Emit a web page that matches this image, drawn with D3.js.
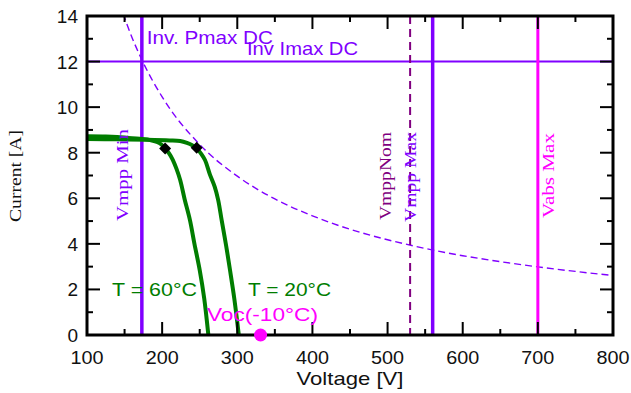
<!DOCTYPE html>
<html><head><meta charset="utf-8">
<script src="https://cdn.jsdelivr.net/npm/d3@7"></script>
<style>
html,body{margin:0;padding:0;background:#fff;}
svg{display:block;}
.sans{font-family:"Liberation Sans",Arial,sans-serif;}
.serif{font-family:"Liberation Serif","Times New Roman",serif;}
</style></head>
<body>
<svg id="chart" width="631" height="393"></svg>
<script>
// ---------- data ----------
const xTicks = [100, 200, 300, 400, 500, 600, 700, 800];
const xMinorTicks = [150, 250, 350, 450, 550, 650, 750];
const yTicks = [0, 2, 4, 6, 8, 10, 12, 14];
const yMinorTicks = [1, 3, 5, 7, 9, 11, 13];

// I-V curve at T = 60°C
const iv60V = [100, 125, 140, 155, 170, 185, 193, 199, 204, 209, 214, 219, 224, 230, 237, 243, 250, 256, 261.5];
const iv60I = [8.72, 8.71, 8.69, 8.65, 8.61, 8.55, 8.47, 8.36, 8.19, 7.98, 7.7, 7.3, 6.8, 5.95, 5.04, 4.0, 2.85, 1.6, 0];
// I-V curve at T = 20°C
const iv20V = [100, 140, 180, 210, 224, 233, 240, 246, 252, 257, 263.5, 270, 274.6, 279.2, 285, 290.3, 296, 302];
const iv20I = [8.6, 8.59, 8.57, 8.54, 8.51, 8.43, 8.33, 8.19, 7.95, 7.68, 7.05, 6.5, 5.92, 5.04, 3.95, 2.85, 1.6, 0];
// MPP points [V, I]
const mppV = [204, 246];
const mppI = [8.19, 8.22];

// Inverter max DC power curve (constant power)
const pmaxV = [148, 160, 173, 200, 250, 300, 350, 400, 450, 500, 550, 600, 650, 700, 750, 800];
const pmaxI = [14.1, 13.05, 12.08, 10.45, 8.36, 6.97, 5.97, 5.23, 4.64, 4.18, 3.8, 3.48, 3.22, 2.99, 2.79, 2.61];

const invImaxDC = 12;
const vmppMin = 173, vmppNom = 530, vmppMax = 560, vabsMax = 700;
const vocCold = 331;

// ---------- layout ----------
const W = 631, H = 393;
const L = 87, R = 613, T = 16, B = 335;
const violet = "#8000ff", magenta = "#ff00ff", nomCol = "#800080", green = "#007d00";

const svg = d3.select("#chart");
const x = d3.scaleLinear().domain([100, 800]).range([L, R]);
const y = d3.scaleLinear().domain([0, 14]).range([B, T]);

svg.append("defs").append("clipPath").attr("id", "clip")
  .append("rect").attr("x", L).attr("y", T).attr("width", R - L).attr("height", B - T);

const plot = svg.append("g").attr("clip-path", "url(#clip)");

// Inv Imax DC horizontal line
plot.append("line").attr("x1", L).attr("x2", R)
  .attr("y1", y(invImaxDC)).attr("y2", y(invImaxDC))
  .attr("stroke", violet).attr("stroke-width", 2);

// Pmax curve
const pmaxData = pmaxV.map((v, i) => [v, pmaxI[i]]);
plot.append("path").datum(pmaxData)
  .attr("d", d3.line().x(d => x(d[0])).y(d => y(d[1])).curve(d3.curveMonotoneX))
  .attr("fill", "none").attr("stroke", violet).attr("stroke-width", 1.4)
  .attr("stroke-dasharray", "7,4");

// VmppNom dashed vertical
plot.append("line").attr("x1", x(vmppNom)).attr("x2", x(vmppNom))
  .attr("y1", T).attr("y2", B)
  .attr("stroke", nomCol).attr("stroke-width", 2).attr("stroke-dasharray", "8,5");

// solid verticals
[[vmppMin, violet, 3.5], [vmppMax, violet, 3.5], [vabsMax, magenta, 3]].forEach(([v, c, w]) => {
  plot.append("line").attr("x1", x(v)).attr("x2", x(v)).attr("y1", T).attr("y2", B)
    .attr("stroke", c).attr("stroke-width", w);
});

// I-V curves
[[iv60V, iv60I], [iv20V, iv20I]].forEach(([vs, is]) => {
  const data = vs.map((v, i) => [v, is[i]]);
  plot.append("path").datum(data)
    .attr("d", d3.line().x(d => x(d[0])).y(d => y(d[1])).curve(d3.curveCatmullRom.alpha(0.5)))
    .attr("fill", "none").attr("stroke", green).attr("stroke-width", 4)
    .attr("stroke-linejoin", "round");
});

// MPP markers
mppV.forEach((v, i) => {
  svg.append("path").attr("d", d3.symbol().type(d3.symbolSquare).size(72)())
    .attr("transform", `translate(${x(v)},${y(mppI[i])}) rotate(45)`)
    .attr("fill", "#000");
});

// ---------- axes / frame ----------
const ax = svg.append("g");
function tick(x1, y1, x2, y2) {
  ax.append("line").attr("x1", x1).attr("y1", y1).attr("x2", x2).attr("y2", y2)
    .attr("stroke", "#000").attr("stroke-width", 2);
}
xTicks.forEach(v => { tick(x(v), B, x(v), B - 13); tick(x(v), T, x(v), T + 13); });
xMinorTicks.forEach(v => { tick(x(v), B, x(v), B - 6); tick(x(v), T, x(v), T + 6); });
yTicks.forEach(v => { tick(L, y(v), L + 13, y(v)); tick(R, y(v), R - 13, y(v)); });
yMinorTicks.forEach(v => { tick(L, y(v), L + 6, y(v)); tick(R, y(v), R - 6, y(v)); });

ax.append("rect").attr("x", L).attr("y", T).attr("width", R - L).attr("height", B - T)
  .attr("fill", "none").attr("stroke", "#000").attr("stroke-width", 3);

// Voc(-10°C) marker (on top of axis)
svg.append("circle").attr("cx", x(vocCold)).attr("cy", y(0)).attr("r", 6.5).attr("fill", magenta);

// tick labels
svg.append("g").selectAll("text").data(xTicks).join("text")
  .attr("class", "sans").attr("x", d => x(d)).attr("y", 364)
  .attr("text-anchor", "middle").attr("font-size", 19).attr("fill", "#111")
  .attr("textLength", 33).attr("lengthAdjust", "spacingAndGlyphs")
  .text(d => d);
svg.append("g").selectAll("text").data(yTicks).join("text")
  .attr("class", "sans").attr("x", 78).attr("y", d => y(d) + 7)
  .attr("text-anchor", "end").attr("font-size", 19).attr("fill", "#111")
  .text(d => d);

// axis titles
svg.append("text").attr("class", "sans").attr("x", 296.5).attr("y", 385)
  .attr("font-size", 19).attr("fill", "#111")
  .attr("textLength", 107).attr("lengthAdjust", "spacingAndGlyphs")
  .text("Voltage [V]");
svg.append("text").attr("class", "serif")
  .attr("transform", "translate(21,222) rotate(-90)")
  .attr("font-size", 16).attr("fill", "#111")
  .attr("textLength", 92).attr("lengthAdjust", "spacingAndGlyphs")
  .text("Current [A]");

// annotation labels
function lbl(txt, px, py, col, len) {
  svg.append("text").attr("class", "sans").attr("x", px).attr("y", py)
    .attr("font-size", 19).attr("fill", col)
    .attr("textLength", len).attr("lengthAdjust", "spacingAndGlyphs").text(txt);
}
lbl("Inv. Pmax DC", x(vmppMin) + 5, 44, violet, 126);
lbl("Inv Imax DC", 247, 55, violet, 111);
lbl("T = 60°C", 112, 296, green, 85);
lbl("T = 20°C", 248, 296, green, 83);
lbl("Voc(-10°C)", 207, 321, magenta, 111);

function vlbl(txt, px, py, col, len) {
  svg.append("text").attr("class", "serif")
    .attr("transform", `translate(${px},${py}) rotate(-90)`)
    .attr("font-size", 16).attr("fill", col)
    .attr("textLength", len).attr("lengthAdjust", "spacingAndGlyphs").text(txt);
}
vlbl("Vmpp Min", x(vmppMin) - 14, 221, violet, 92);
vlbl("VmppNom", x(vmppNom) - 19, 220, nomCol, 88);
vlbl("Vmpp Max", x(vmppMax) - 17, 222, violet, 90);
vlbl("Vabs Max", x(vabsMax) + 16, 218, magenta, 85);
</script>
</body></html>
